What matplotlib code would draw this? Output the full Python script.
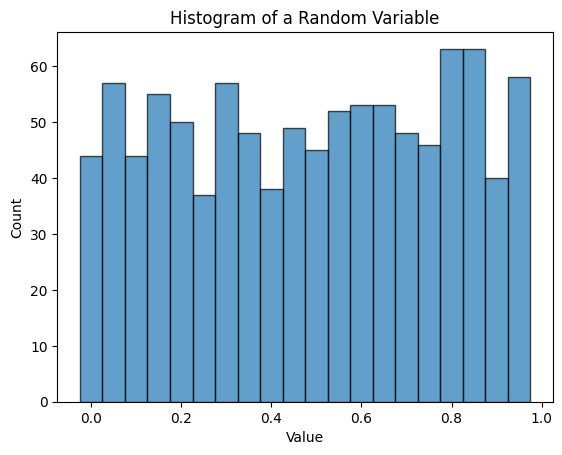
import numpy as np
import matplotlib.pyplot as plt

# bin centers and counts
bin_centers = np.arange(20) * 0.05
counts = [44, 57, 44, 55, 50, 37, 57, 48, 38, 49,
          45, 52, 53, 53, 48, 46, 63, 63, 40, 58]

fig = plt.figure(figsize=(5.62, 4.55), dpi=100)
fig.subplots_adjust(left=0.102, right=0.984, top=0.930, bottom=0.1165)
ax = fig.add_subplot(111)

ax.bar(bin_centers, counts, width=0.05, color='C0', alpha=0.7, edgecolor='black')
ax.set_title("Histogram of a Random Variable")
ax.set_xlabel("Value")
ax.set_ylabel("Count")

fig.savefig("out.png", dpi=100)
